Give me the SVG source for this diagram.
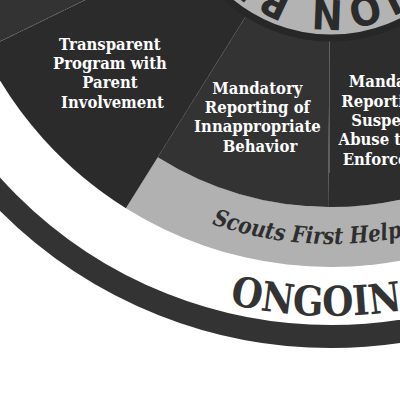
<svg xmlns="http://www.w3.org/2000/svg" width="400" height="400" viewBox="0 0 400 400">
  <style>
    .seg-dark{fill:#2b2b2b}
    .seg-mid{fill:#333333}
    .seg-deep{fill:#2d2d2d}
    .label{font-family:"DejaVu Serif","Liberation Serif",serif;font-weight:bold;font-size:16px;fill:#ffffff;text-anchor:middle}
    .band-text{font-family:"DejaVu Serif","Liberation Serif",serif;font-weight:bold;font-style:italic;font-size:23px;fill:#2e2e2e}
    .ring-text{font-family:"DejaVu Serif","Liberation Serif",serif;font-weight:bold;font-size:41px;fill:#333333}
    .hub-text{font-family:"Liberation Sans Narrow","DejaVu Sans Condensed","Liberation Sans",sans-serif;font-weight:bold;font-size:41px;letter-spacing:3px;fill:#2b2b2b}
  </style>
  <defs>
    <!-- all rings share the centre (331,-120) -->
    <path id="hub-arc" d="M331,-240 A120,120 0 1 1 331,0 A120,120 0 1 1 331,-240"/>
    <path id="band-arc" d="M-33,-120 A364,364 0 0 0 695,-120"/>
    <path id="ring-arc" d="M-105,-120 A436,436 0 0 0 767,-120"/>
  </defs>
  <rect width="400" height="400" fill="#ffffff"/>

  <!-- outermost ring -->
  <g id="ongoing-ring">
    <circle cx="331" cy="-120" r="456.5" fill="none" stroke="#333333" stroke-width="23"/>
    <text class="ring-text"><textPath href="#ring-arc" startOffset="582" textLength="205" lengthAdjust="spacingAndGlyphs">ONGOING</textPath></text>
  </g>

  <!-- helpline band -->
  <g id="helpline">
    <path d="M157.7,157.3 L125.9,208.2 A387,387 0 0 0 694.7,12.4 L638.3,-8.2 A327,327 0 0 1 157.7,157.3 Z" fill="#b1b1b1"/>
    <text class="band-text"><textPath href="#band-arc" startOffset="450" textLength="236" lengthAdjust="spacingAndGlyphs">Scouts First Helpline</textPath></text>
  </g>

  <!-- wheel segments -->
  <g id="seg-upper">
    <path class="seg-mid" d="M331,-120 L-16.8,49.7 A387,387 0 0 1 198.6,-483.7 Z"/>
  </g>
  <g id="seg-program">
    <path class="seg-dark" d="M331,-120 L125.9,208.2 A387,387 0 0 1 -16.8,49.7 Z"/>
    <text class="label" transform="translate(112.5 0) scale(0.93 1)">
      <tspan x="0" y="50">Transparent</tspan>
      <tspan x="0" y="69.2">Program with</tspan>
      <tspan x="0" y="88.4">Parent</tspan>
      <tspan x="0" y="107.6">Involvement</tspan>
    </text>
  </g>
  <g id="seg-behavior">
    <path class="seg-mid" d="M331,-120 L328.1,207 A327,327 0 0 1 157.7,157.3 Z"/>
    <text class="label" transform="translate(260 0) scale(0.93 1)">
      <tspan x="0" y="94.3">Mandatory</tspan>
      <tspan x="0" y="113.4">Reporting of</tspan>
      <tspan x="0" y="132.5">Innappropriate</tspan>
      <tspan x="0" y="151.7">Behavior</tspan>
    </text>
  </g>
  <g id="seg-law">
    <path class="seg-deep" d="M331,-120 L614.2,43.5 A327,327 0 0 1 328.1,207 Z"/>
    <text class="label" transform="translate(396.5 0) scale(0.93 1)">
      <tspan x="0" y="87.3">Mandatory</tspan>
      <tspan x="0" y="106.7">Reporting of</tspan>
      <tspan x="0" y="126">Suspected</tspan>
      <tspan x="0" y="145.4">Abuse to Law</tspan>
      <tspan x="0" y="164.7">Enforcement</tspan>
    </text>
  </g>

  <!-- segment dividers -->
  <g id="dividers" fill="none" stroke-width="1">
    <line x1="187.2" y1="-49.9" x2="-16.8" y2="49.7" stroke="#6e6e6e" stroke-dasharray="1 1.5"/>
    <line x1="246.2" y1="15.7" x2="157.7" y2="157.3" stroke="#454545" stroke-dasharray="1 1.5"/>
    <line x1="329.5" y1="61" x2="329.5" y2="173" stroke="#5c5c5c"/>
  </g>

  <!-- centre hub -->
  <g id="hub">
    <circle cx="331" cy="-120" r="158" fill="#b3b3b3" stroke="#272727" stroke-width="7"/>
    <text class="hub-text"><textPath href="#hub-arc" startOffset="103">PROTECTION BEGINS</textPath></text>
  </g>
</svg>
